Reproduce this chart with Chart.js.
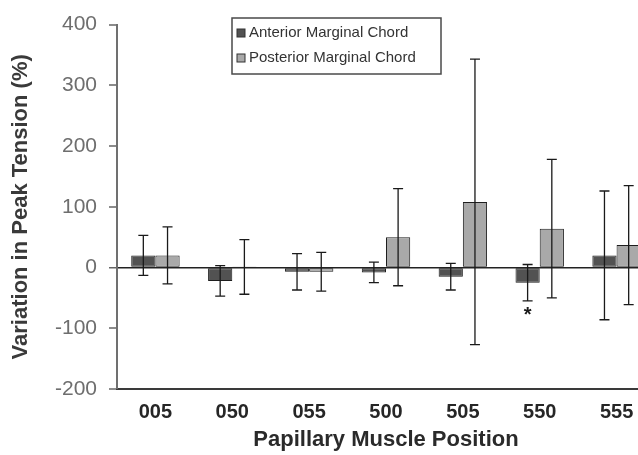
<!DOCTYPE html>
<html>
<head>
<meta charset="utf-8">
<script src="https://cdn.jsdelivr.net/npm/chart.js@4.4.1/dist/chart.umd.min.js"></script>
<style>
  html, body { margin: 0; padding: 0; background: #fff; }
  #wrap { width: 638px; height: 455px; overflow: hidden; }
</style>
</head>
<body>
<div id="wrap"><canvas id="chart" width="664" height="455"></canvas></div>
<script>
// позиции папиллярных мышц
const positions = ["005", "050", "055", "500", "505", "550", "555"];

// среднее и стандартное отклонение, %
const anteriorMean = [20, -22, -7, -8, -15, -25, 20];
const anteriorSD = [33, 25, 30, 17, 22, 30, 106];
const posteriorMean = [20, 1, -7, 50, 108, 64, 37];
const posteriorSD = [47, 45, 32, 80, 235, 114, 98];

// отметки значимости (под нижним усом)
const anteriorMarks = ["", "", "", "", "", "*", ""];

const yTicks = [-200, -100, 0, 100, 200, 300, 400];

const canvas = document.getElementById("chart");
const ctx = canvas.getContext("2d");

const config = {
  type: "bar",
  data: {
    labels: positions,
    datasets: [
      {
        label: "Anterior Marginal Chord",
        data: anteriorMean,
        sd: anteriorSD,
        marks: anteriorMarks,
        backgroundColor: "#525252",
        borderColor: "#1e1e1e",
        borderWidth: 1,
        borderSkipped: false,
        categoryPercentage: 0.63,
        barPercentage: 1.0,
      },
      {
        label: "Posterior Marginal Chord",
        data: posteriorMean,
        sd: posteriorSD,
        backgroundColor: "#a9a9a9",
        borderColor: "#1e1e1e",
        borderWidth: 1,
        borderSkipped: false,
        categoryPercentage: 0.63,
        barPercentage: 1.0,
      },
    ],
  },
  options: {
    responsive: false,
    animation: false,
    layout: { padding: { top: 24, right: 9, bottom: 0, left: 0 } },
    plugins: {
      legend: { display: false },
      tooltip: { enabled: false },
    },
    scales: {
      x: {
        grid: { display: false, drawTicks: false },
        border: { display: true, color: "#3a3a3a", width: 2 },
        ticks: {
          color: "#262626",
          font: { family: "Arial, 'Liberation Sans'", size: 20, weight: "bold" },
          padding: 11,
          maxRotation: 0,
        },
        title: {
          display: true,
          text: "Papillary Muscle Position",
          color: "#2a2a2a",
          font: { family: "Arial, 'Liberation Sans'", size: 22, weight: "bold" },
          padding: { top: 0, bottom: 2 },
        },
        afterFit: (scale) => {
          scale.height = 66;
        },
      },
      y: {
        min: -200,
        max: 400,
        afterBuildTicks: (scale) => {
          scale.ticks = yTicks.map((v) => ({ value: v }));
        },
        grid: {
          color: (c) => (c.tick && c.tick.value === 0 ? "#222" : "transparent"),
          lineWidth: (c) => (c.tick && c.tick.value === 0 ? 1.5 : 0),
          tickColor: "#666",
          tickLength: 8,
          tickWidth: 1.5,
        },
        border: { display: true, color: "#707070", width: 2 },
        ticks: {
          color: "#6e6e6e",
          font: { family: "Arial, 'Liberation Sans'", size: 21 },
          padding: 12,
          callback: (v) => String(v),
        },
        title: {
          display: true,
          text: "Variation in Peak Tension (%)",
          color: "#3a3a3a",
          font: { family: "Arial, 'Liberation Sans'", size: 22, weight: "bold" },
          padding: { top: 8, bottom: 0 },
        },
        afterFit: (scale) => {
          scale.width = 117;
        },
      },
    },
  },
  plugins: [
    {
      // усы ± SD и звёздочки
      id: "errorBars",
      afterDatasetsDraw(chart) {
        const { ctx, scales: { y } } = chart;
        ctx.save();
        ctx.strokeStyle = "#1a1a1a";
        ctx.lineWidth = 1.3;
        chart.data.datasets.forEach((ds, di) => {
          const meta = chart.getDatasetMeta(di);
          meta.data.forEach((bar, i) => {
            const m = ds.data[i];
            const s = ds.sd[i];
            const yTop = y.getPixelForValue(m + s);
            const yBot = y.getPixelForValue(m - s);
            const x = bar.x;
            ctx.beginPath();
            ctx.moveTo(x, yTop);
            ctx.lineTo(x, yBot);
            ctx.moveTo(x - 5, yTop);
            ctx.lineTo(x + 5, yTop);
            ctx.moveTo(x - 5, yBot);
            ctx.lineTo(x + 5, yBot);
            ctx.stroke();
            if (ds.marks && ds.marks[i]) {
              ctx.fillStyle = "#1a1a1a";
              ctx.font = "bold 20px Arial, 'Liberation Sans'";
              ctx.textAlign = "center";
              ctx.textBaseline = "middle";
              ctx.fillText(ds.marks[i], x, yBot + 15);
            }
          });
        });
        ctx.restore();
      },
    },
    {
      // легенда в рамке
      id: "boxLegend",
      afterDraw(chart) {
        const { ctx } = chart;
        const left = 232, top = 18, w = 209, h = 56;
        ctx.save();
        ctx.strokeStyle = "#4a4a4a";
        ctx.lineWidth = 1.5;
        ctx.strokeRect(left, top, w, h);
        ctx.font = "15px Arial, 'Liberation Sans'";
        ctx.textBaseline = "middle";
        ctx.textAlign = "left";
        chart.data.datasets.forEach((ds, i) => {
          const cy = top + 15 + i * 25;
          ctx.fillStyle = ds.backgroundColor;
          ctx.fillRect(left + 5, cy - 4, 8, 8);
          ctx.strokeStyle = "#333";
          ctx.lineWidth = 1;
          ctx.strokeRect(left + 5, cy - 4, 8, 8);
          ctx.fillStyle = "#333";
          ctx.fillText(ds.label, left + 17, cy);
        });
        ctx.restore();
      },
    },
  ],
};

new Chart(ctx, config);
</script>
</body>
</html>
